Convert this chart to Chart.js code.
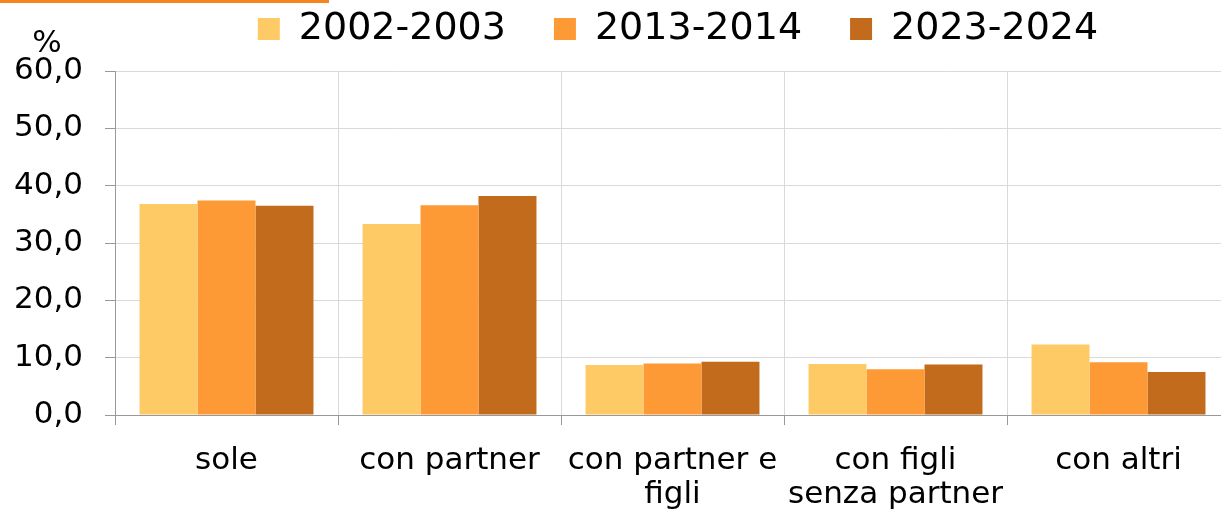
<!DOCTYPE html>
<html>
<head>
<meta charset="utf-8">
<script src="https://cdn.jsdelivr.net/npm/chart.js@4"></script>
<style>
  html, body { margin: 0; padding: 0; background: #fff; overflow: hidden; }
  #wrap { width: 1240px; height: 512px; position: relative; }
</style>
</head>
<body>
<div id="wrap"><canvas id="c"></canvas></div>
<script>
const categories = ["sole", "con partner", ["con partner e", "figli"], ["con figli", "senza partner"], "con altri"];
const seriesNames = ["2002-2003", "2013-2014", "2023-2024"];
const values2002 = [36.8, 33.3, 8.7, 8.9, 12.3];
const values2013 = [37.4, 36.6, 9.0, 8.0, 9.2];
const values2023 = [36.5, 38.2, 9.3, 8.8, 7.5];
const colors = ["#FECA66", "#FE9A36", "#C36B1D"];

const FONT = "'DejaVu Sans', Verdana, sans-serif";
const LEGEND_PAD = 48;

// orange strip top-left, "%" unit, legend size/position tweaks
const decor = {
  id: "decor",
  afterInit(chart) {
    const lg = chart.legend;
    const fit = lg.fit;
    lg.fit = function () {
      fit.call(this);
      this.height = 65;
    };
  },
  afterLayout(chart) {
    const lg = chart.legend;
    lg.left += 63;
    lg.right += 63;
    lg.top = 10 - LEGEND_PAD;
  },
  afterDraw(chart) {
    const ctx = chart.ctx;
    ctx.save();
    ctx.fillStyle = "#F5861F";
    ctx.fillRect(0, 0, 329, 3);
    ctx.fillStyle = "#000";
    ctx.font = "31px " + FONT;
    ctx.textAlign = "center";
    ctx.textBaseline = "middle";
    ctx.fillText("%", 47, 44);
    ctx.restore();
  }
};

new Chart(document.getElementById("c"), {
  type: "bar",
  data: {
    labels: categories,
    datasets: [
      { label: seriesNames[0], data: values2002, backgroundColor: colors[0] },
      { label: seriesNames[1], data: values2013, backgroundColor: colors[1] },
      { label: seriesNames[2], data: values2023, backgroundColor: colors[2] },
    ],
  },
  options: {
    responsive: true,
    maintainAspectRatio: false,
    animation: false,
    layout: { padding: { top: 6, right: 10, left: 0, bottom: 0 } },
    datasets: { bar: { categoryPercentage: 0.78, barPercentage: 1.0 } },
    plugins: {
      legend: {
        display: true,
        position: "top",
        labels: {
          font: { family: FONT, size: 38 },
          color: "#000",
          boxWidth: 22,
          boxHeight: 22,
          padding: LEGEND_PAD,
        },
      },
      tooltip: { enabled: false },
    },
    scales: {
      x: {
        grid: { offset: true, color: "#D9D9D9", tickColor: "#999", tickLength: 10 },
        border: { color: "#999" },
        ticks: { font: { family: FONT, size: 31, lineHeight: 1.1 }, color: "#000", padding: 19, maxRotation: 0, autoSkip: false },
        afterFit(s) { s.height = 97; },
      },
      y: {
        min: 0,
        max: 60,
        grid: { color: "#D9D9D9", tickColor: "#999", tickLength: 10 },
        border: { color: "#999" },
        ticks: {
          stepSize: 10,
          font: { family: FONT, size: 31 },
          color: "#000",
          padding: 22,
          callback: (v) => v.toFixed(1).replace(".", ","),
        },
        afterFit(s) { s.width = 115; },
      },
    },
  },
  plugins: [decor],
});
</script>
</body>
</html>
